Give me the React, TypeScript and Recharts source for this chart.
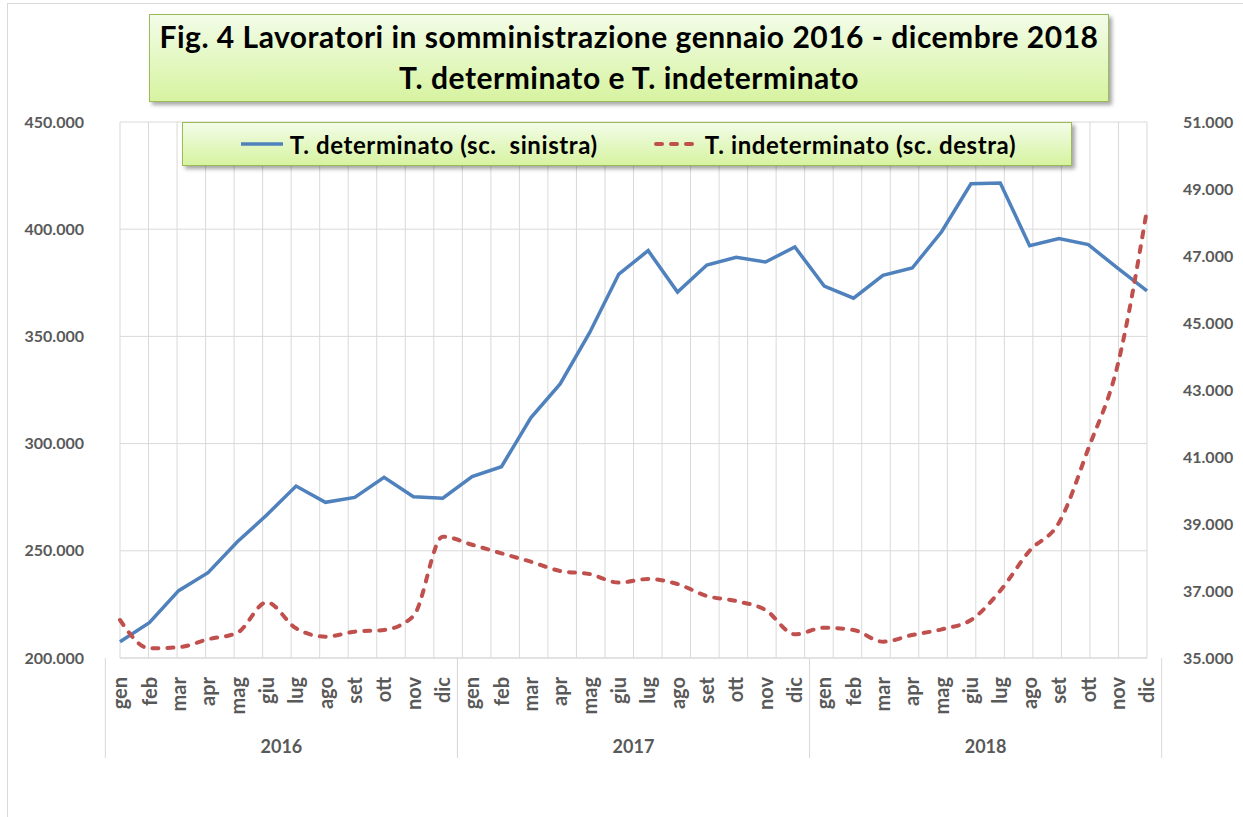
import React from 'react';
import { LineChart, Line, XAxis, YAxis, CartesianGrid } from 'recharts';

const months = ['gen', 'feb', 'mar', 'apr', 'mag', 'giu', 'lug', 'ago', 'set', 'ott', 'nov', 'dic'];
const years = ['2016', '2017', '2018'];

const determinato = [
  207600, 216500, 231400, 239800, 254200, 266700, 280200, 272600, 274900, 284300, 275200, 274500,
  284600, 289200, 312000, 327800, 351600, 379100, 390000, 370700, 383300, 386900, 384700, 391700,
  373500, 367800, 378500, 381900, 398800, 421200, 421500, 392300, 395600, 392800, 381800, 371200,
];

const indeterminato = [
  36134, 35290, 35320, 35558, 35755, 36662, 35886, 35637, 35786, 35836, 36254, 38622,
  38380, 38125, 37875, 37597, 37507, 37250, 37358, 37209, 36851, 36701, 36433, 35707,
  35905, 35836, 35487, 35687, 35856, 36134, 37009, 38203, 39039, 41250, 43746, 48390,
];

const leftTicks = [200000, 250000, 300000, 350000, 400000, 450000];
const rightTicks = [35000, 37000, 39000, 41000, 43000, 45000, 47000, 49000, 51000];

const titleLines = [
  'Fig. 4 Lavoratori in somministrazione gennaio 2016 - dicembre 2018',
  'T. determinato e T. indeterminato',
];

const series = [
  { key: 'det', name: 'T. determinato (sc.  sinistra)', color: '#4f81bd', dash: undefined as string | undefined, cap: 'butt', axis: 'left', type: 'linear' },
  { key: 'indet', name: 'T. indeterminato (sc. destra)', color: '#c0504d', dash: '6 9', cap: 'round', axis: 'right', type: 'monotone' },
];

const data = years.flatMap((y, yi) =>
  months.map((m, mi) => ({
    key: `${m} ${y}`,
    month: m,
    year: y,
    det: determinato[yi * 12 + mi],
    indet: indeterminato[yi * 12 + mi],
  }))
);

const CHART_W = 1243;
const CHART_H = 817;
const MARGIN = { top: 122, right: 26, bottom: 59, left: 30 };
const LEFT_AXIS_W = 90;
const RIGHT_AXIS_W = 70;
const XAXIS_H = 100;
const PLOT_LEFT = 106;
const PLOT_RIGHT = 1162;
const STEP = (PLOT_RIGHT - PLOT_LEFT) / data.length;

const FONT = 'Lato, "Open Sans", sans-serif';
const TEXT = '#595959';
const GRID = '#d9d9d9';

const fmt = (v: number) => v.toLocaleString('de-DE');

function MonthTick(props: any) {
  const { x, y, payload } = props;
  const i: number = payload.index;
  const mi = i % 12;
  const d = data[i];
  return (
    <g>
      <text
        transform={`translate(${x},${y}) rotate(-90)`}
        x={-19}
        y={0}
        dy="0.36em"
        textAnchor="end"
        fontFamily={FONT}
        fontWeight={700}
        fontSize={20}
        fill={TEXT}
      >
        {d.month}
      </text>
      {mi === 0 && (
        <line x1={x - STEP / 2} x2={x - STEP / 2} y1={y} y2={y + XAXIS_H} stroke={GRID} strokeWidth={1} />
      )}
      {mi === 11 && (
        <line x1={x + STEP / 2} x2={x + STEP / 2} y1={y} y2={y + XAXIS_H} stroke={GRID} strokeWidth={1} />
      )}
      {mi === 6 && (
        <text
          x={x - STEP / 2}
          y={y + 95}
          textAnchor="middle"
          fontFamily={FONT}
          fontWeight={700}
          fontSize={18}
          fill={TEXT}
        >
          {d.year}
        </text>
      )}
    </g>
  );
}

const boxStyle: React.CSSProperties = {
  position: 'absolute',
  boxSizing: 'border-box',
  background: 'linear-gradient(to bottom, #f3fce8 0%, #e4f8c4 50%, #d7f3a0 100%)',
  border: '1.5px solid #9bbb59',
  boxShadow: '3px 3px 4px rgba(0,0,0,0.35)',
  fontFamily: FONT,
  fontWeight: 700,
  color: '#000',
};

export default function App() {
  return (
    <div style={{ position: 'fixed', left: 0, top: 0, width: CHART_W, height: CHART_H, overflow: 'hidden', background: '#fff' }}>
      <div
        style={{
          position: 'absolute',
          left: 7,
          top: 3,
          width: CHART_W,
          height: CHART_H,
          borderTop: `1px solid ${GRID}`,
          borderLeft: `1px solid ${GRID}`,
        }}
      />
      <div style={{ position: 'absolute', left: 0, top: 0 }}>
        <LineChart width={CHART_W} height={CHART_H} data={data} margin={MARGIN}>
          <CartesianGrid
            yAxisId="left"
            stroke={GRID}
            strokeWidth={1}
            horizontal={true}
            vertical={true}
            verticalCoordinatesGenerator={(p: any) => {
              const off = p.offset;
              return data.concat([data[0]]).map((_, i) => off.left + (i * off.width) / data.length);
            }}
          />
          <XAxis
            dataKey="key"
            interval={0}
            height={XAXIS_H}
            tickLine={false}
            tickSize={0}
            tickMargin={0}
            axisLine={{ stroke: GRID }}
            tick={<MonthTick />}
          />
          <YAxis
            yAxisId="left"
            orientation="left"
            width={LEFT_AXIS_W}
            domain={[200000, 450000]}
            ticks={leftTicks}
            tickFormatter={fmt}
            axisLine={false}
            tickLine={false}
            tickSize={0}
            tickMargin={22}
            tick={{ fontFamily: FONT, fontWeight: 700, fontSize: 16, fill: TEXT, dx: -14 }}
          />
          <YAxis
            yAxisId="right"
            orientation="right"
            width={RIGHT_AXIS_W}
            domain={[35000, 51000]}
            ticks={rightTicks}
            tickFormatter={fmt}
            axisLine={false}
            tickLine={false}
            tickSize={0}
            tickMargin={21}
            tick={{ fontFamily: FONT, fontWeight: 700, fontSize: 16, fill: TEXT, textAnchor: 'start', dx: 15 }}
          />
          {series.map((s) => (
            <Line
              key={s.key}
              yAxisId={s.axis}
              dataKey={s.key}
              name={s.name}
              type={s.type as any}
              stroke={s.color}
              strokeWidth={s.dash ? 4 : 3.5}
              strokeDasharray={s.dash}
              strokeLinecap={s.cap as any}
              dot={false}
              activeDot={false}
              isAnimationActive={false}
            />
          ))}
        </LineChart>
      </div>

      <div
        style={{
          ...boxStyle,
          left: 149,
          top: 14,
          width: 960,
          height: 88,
          fontSize: 30,
          letterSpacing: 0.5,
          lineHeight: '41px',
          textAlign: 'center',
          paddingTop: 1,
        }}
      >
        {titleLines.map((t) => (
          <div key={t}>{t}</div>
        ))}
      </div>

      <div
        style={{
          ...boxStyle,
          left: 182,
          top: 122,
          width: 890,
          height: 44,
          display: 'flex',
          alignItems: 'center',
          justifyContent: 'center',
          gap: 55,
          fontSize: 24,
          letterSpacing: 0.6,
        }}
      >
        {series.map((s) => (
          <div key={s.key} style={{ display: 'flex', alignItems: 'center' }}>
            <svg width={48} height={10} style={{ marginRight: 4 }}>
              <line
                x1={3}
                x2={45}
                y1={5}
                y2={5}
                stroke={s.color}
                strokeWidth={s.dash ? 4 : 3.5}
                strokeDasharray={s.dash}
                strokeLinecap={s.cap as any}
              />
            </svg>
            <span style={{ whiteSpace: 'pre' }}>{s.name}</span>
          </div>
        ))}
      </div>
    </div>
  );
}
